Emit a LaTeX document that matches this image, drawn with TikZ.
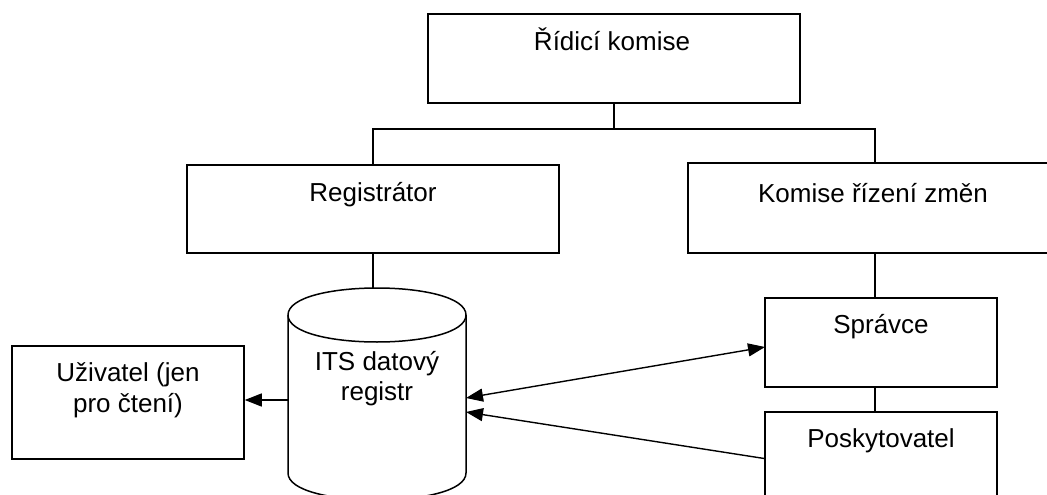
\documentclass[tikz,border=0pt]{standalone}
\usepackage{fontspec}
\setmainfont{Liberation Sans}
\usetikzlibrary{arrows.meta}
\begin{document}
\begin{tikzpicture}[x=1pt,y=-1pt,
  box/.style={draw, line width=1.5pt, inner sep=0pt, rectangle},
  lbl/.style={anchor=base, inner sep=0pt, font=\fontsize{26}{30}\selectfont},
  conn/.style={line width=1.4pt},
  tip/.style={-{Triangle[length=17pt,width=13pt]}},
  dtip/.style={{Triangle[length=17pt,width=13pt]}-{Triangle[length=17pt,width=13pt]}},
]
\useasboundingbox (0,0) rectangle (1047,495);
\clip (0,0) rectangle (1047,495);
\fill[white] (0,0) rectangle (1047,495);

% boxes
\node[box, minimum width=372pt, minimum height=89pt] (rk) at (614,58.5) {};
\node[lbl] (rkt) at (612,51) {Řídicí komise};

\node[box, minimum width=372pt, minimum height=88pt] (reg) at (373,209) {};
\node[lbl] (regt) at (373,201) {Registrátor};

\node[box, minimum width=374pt, minimum height=90pt] (kom) at (875,208) {};
\node[lbl] (komt) at (873,202) {Komise řízení změn};

\node[box, minimum width=232pt, minimum height=113pt] (uz) at (128,402.5) {};
\node[lbl] (uzt1) at (128,381) {Uživatel (jen};
\node[lbl] (uzt2) at (128,412) {pro čtení)};

\node[box, minimum width=232pt, minimum height=89pt] (spr) at (881,342.5) {};
\node[lbl] (sprt) at (881,333) {Správce};

\node[box, minimum width=232pt, minimum height=93pt] (posk) at (881,458.5) {};
\node[lbl] (poskt) at (881,447) {Poskytovatel};

% cylinder
\draw[line width=1.5pt] (288,315) -- (288,473) .. controls (288,509) and (466,509) .. (466,473) -- (466,315);
\draw[line width=1.5pt] (288,315) .. controls (288,279) and (466,279) .. (466,315)
  .. controls (466,351) and (288,351) .. (288,315);
\node[lbl] (cylt1) at (377,370) {ITS datový};
\node[lbl] (cylt2) at (377,400) {registr};

\coordinate (cyltop) at (373,288.4);
\coordinate (cylL) at (288,400);
\coordinate (cylRa) at (466,398);
\coordinate (cylRb) at (466,412);
\coordinate (sprIn) at (765,347);
\coordinate (junc) at (614,129);

% tree connectors
\draw[conn] (rk.south) -- (junc);
\draw[conn] (reg.north) |- (junc) -| (kom.north);
\draw[conn] (reg.south) -- (cyltop);
\draw[conn] (kom.south) -- (kom.south |- spr.north);
\draw[conn] (kom.south |- spr.south) -- (kom.south |- posk.north);

% arrows
\draw[conn, tip] (cylL) -- (cylL -| uz.east);
\draw[conn, dtip] (cylRa) -- (sprIn);
\draw[conn, tip] (posk.west) -- (cylRb);
\end{tikzpicture}
\end{document}
